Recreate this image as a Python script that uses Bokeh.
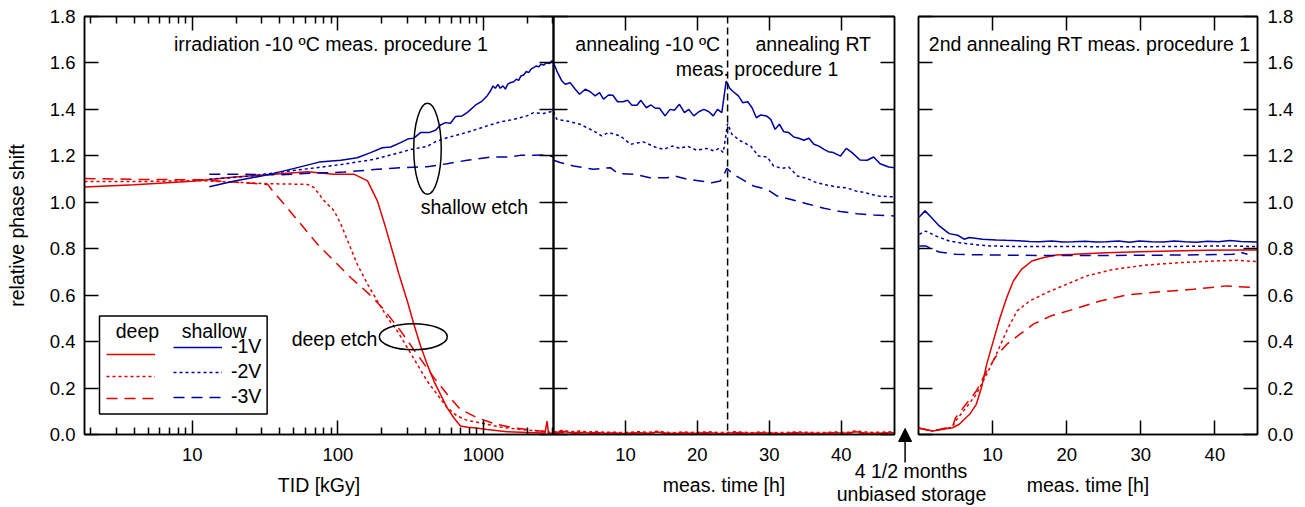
from bokeh.plotting import figure
from bokeh.models import (Range1d, LinearAxis, LogAxis, FixedTicker, PrintfTickFormatter,
                          Label, Span, Legend, LegendItem, BoxAnnotation, Arrow, NormalHead, GridBox)
from bokeh.core.properties import value
from bokeh.embed import file_html
from bokeh.resources import INLINE

# ---------------- data ----------------
y_ticks = [0.0, 0.2, 0.4, 0.6, 0.8, 1.0, 1.2, 1.4, 1.6, 1.8]
tid_ticks = [10, 100, 1000]
tid_minor_ticks = [2, 3, 4, 5, 6, 7, 8, 9, 20, 30, 40, 50, 60, 70, 80, 90,
                   200, 300, 400, 500, 600, 700, 800, 900, 2000, 3000]
time_ticks = [10, 20, 30, 40]
voltages = ["-1V", "-2V", "-3V"]

# irradiation (TID in kGy) - deep etch
tid_d1 = [1.82, 4, 10, 19.5, 36.6, 62, 94, 129, 160, 187, 213, 237, 263, 300, 333, 370, 411, 457, 507,
          564, 626, 695, 780, 858, 1060, 1453, 2213, 2650, 2735, 2800, 3030]
d1_irr = [1.066, 1.076, 1.091, 1.109, 1.121, 1.131, 1.121, 1.121, 1.092, 1.006, 0.891, 0.790, 0.690,
          0.575, 0.475, 0.381, 0.302, 0.230, 0.173, 0.115, 0.072, 0.037, 0.031, 0.029, 0.022, 0.012,
          0.008, 0.006, 0.058, 0.006, 0.005]
tid_d2 = [1.82, 5, 11.5, 33, 62, 68.8, 80.6, 94.4, 105, 119.5, 136, 160, 187, 219, 256, 300, 351, 411,
          481, 564, 660, 773, 1005, 1306, 1790, 2450, 3030]
d2_irr = [1.090, 1.090, 1.093, 1.080, 1.077, 1.063, 1.006, 0.963, 0.905, 0.819, 0.733, 0.647, 0.575,
          0.503, 0.446, 0.374, 0.302, 0.230, 0.173, 0.115, 0.080, 0.061, 0.047, 0.032, 0.022, 0.015, 0.008]
tid_d3 = [1.82, 5, 11.5, 33, 35.7, 42.9, 55.8, 72.6, 94.4, 122.7, 160, 207, 270, 351, 457, 564, 695,
          907, 1176, 1614, 2213, 3030]
d3_irr = [1.102, 1.098, 1.097, 1.077, 1.049, 0.991, 0.905, 0.819, 0.747, 0.675, 0.611, 0.539, 0.446,
          0.345, 0.245, 0.173, 0.108, 0.072, 0.047, 0.029, 0.018, 0.010]

# irradiation - shallow etch
tid_s1 = [13.1, 19.5, 33, 50.2, 74.5, 105, 136, 168, 202, 231, 270, 307, 333, 370, 422, 469, 507, 549,
          594, 643, 714, 773, 881, 979, 1060, 1117, 1165, 1207, 1260, 1306, 1364, 1415, 1467, 1530,
          1614, 1683, 1746, 1811, 1889, 1971, 2044, 2121, 2213, 2308, 2394, 2484, 2589, 2729, 2844,
          2951, 3030]
s1_irr = [1.067, 1.092, 1.118, 1.146, 1.173, 1.181, 1.192, 1.214, 1.235, 1.238, 1.257, 1.274, 1.276,
          1.300, 1.300, 1.310, 1.333, 1.343, 1.340, 1.369, 1.372, 1.386, 1.418, 1.436, 1.458, 1.479,
          1.501, 1.491, 1.508, 1.491, 1.501, 1.487, 1.508, 1.515, 1.519, 1.530, 1.525, 1.544, 1.548,
          1.563, 1.558, 1.573, 1.580, 1.587, 1.583, 1.594, 1.591, 1.601, 1.597, 1.609, 1.607]
tid_s2 = [13.1, 25.4, 42.9, 65.3, 110, 177, 243, 316, 411, 481, 564, 695, 858, 1060, 1306, 1614, 1991,
          2213, 2589, 3030]
s2_irr = [1.099, 1.113, 1.132, 1.146, 1.164, 1.185, 1.207, 1.227, 1.241, 1.264, 1.278, 1.293, 1.310,
          1.329, 1.346, 1.357, 1.372, 1.386, 1.382, 1.393]
tid_s3 = [13.1, 22.8, 38.6, 65.3, 110, 187, 270, 411, 564, 773, 1117, 1530, 1790, 2213, 2589, 3030]
s3_irr = [1.121, 1.121, 1.118, 1.125, 1.130, 1.142, 1.149, 1.153, 1.166, 1.181, 1.195, 1.195, 1.202,
          1.202, 1.204, 1.196]

# annealing -10 C / RT (meas. time in h)
h_s1 = [0, 0.47, 1.17, 1.63, 2.32, 3.02, 3.62, 4.41, 5.1, 5.8, 6.4, 6.95, 7.65, 8.26, 8.9, 9.65, 10.3,
        10.9, 11.6, 12.15, 12.9, 13.55, 14.15, 14.74, 15.5, 16.2, 16.8, 17.5, 18.2, 18.8, 19.5, 20.2,
        20.9, 21.6, 22.2, 22.8, 23.4, 24.0, 24.5, 25.0, 25.7, 26.3, 27.0, 27.6, 28.2, 28.8, 29.6, 30.2,
        30.8, 31.4, 32.0, 32.7, 33.4, 34.1, 34.8, 35.5, 36.2, 36.9, 37.6, 38.2, 38.9, 39.9, 40.7, 41.5,
        42.6, 43.6, 44.5, 45.4, 46.6, 47.4]
s1_ann = [1.601, 1.565, 1.522, 1.508, 1.515, 1.487, 1.465, 1.487, 1.476, 1.458, 1.472, 1.444, 1.462,
          1.461, 1.433, 1.433, 1.439, 1.418, 1.418, 1.439, 1.407, 1.419, 1.405, 1.405, 1.372, 1.400,
          1.396, 1.422, 1.386, 1.400, 1.372, 1.390, 1.400, 1.390, 1.372, 1.400, 1.386, 1.522, 1.491,
          1.476, 1.458, 1.429, 1.433, 1.407, 1.364, 1.376, 1.372, 1.357, 1.314, 1.336, 1.304, 1.300,
          1.281, 1.276, 1.267, 1.276, 1.250, 1.242, 1.228, 1.218, 1.214, 1.199, 1.232, 1.214, 1.182,
          1.181, 1.195, 1.166, 1.152, 1.149]
h_s2 = [0, 0.47, 1.86, 3.7, 5.56, 6.7, 7.65, 9.28, 10.7, 12.5, 14.1, 15.3, 16.5, 17.6, 18.6, 19.9, 21.3,
        22.3, 23.0, 23.6, 24.2, 24.8, 26.0, 27.4, 28.5, 29.7, 30.6, 31.8, 32.7, 33.9, 35.2, 36.6, 38.0,
        39.4, 40.6, 42.0, 43.4, 45.0, 47.4]
s2_ann = [1.390, 1.357, 1.350, 1.336, 1.307, 1.286, 1.300, 1.286, 1.250, 1.260, 1.238, 1.228, 1.242,
          1.232, 1.242, 1.224, 1.232, 1.221, 1.232, 1.214, 1.339, 1.293, 1.264, 1.242, 1.199, 1.195,
          1.156, 1.146, 1.152, 1.113, 1.103, 1.084, 1.074, 1.066, 1.063, 1.049, 1.041, 1.027, 1.023]
h_s3 = [0, 0.93, 2.78, 5.56, 7.9, 9.0, 11.1, 13.4, 15.8, 16.9, 18.6, 20.4, 22.0, 23.2, 23.6, 24.1, 25.0,
        26.4, 27.8, 29.7, 31.1, 32.9, 35.2, 37.6, 39.9, 42.2, 44.5, 47.4]
s3_ann = [1.181, 1.171, 1.156, 1.142, 1.149, 1.123, 1.121, 1.106, 1.106, 1.113, 1.099, 1.092, 1.084,
          1.092, 1.113, 1.146, 1.121, 1.095, 1.070, 1.056, 1.027, 1.013, 0.994, 0.974, 0.960, 0.951,
          0.945, 0.941]
h_d = [0, 1.2, 2.4, 3.6, 4.8, 6.0, 7.2, 8.4, 9.6, 10.8, 12.0, 13.2, 14.4, 15.6, 16.8, 18.0, 19.2, 20.4,
       21.6, 22.8, 24.0, 25.2, 26.4, 27.6, 28.8, 30.0, 31.2, 32.4, 33.6, 34.8, 36.0, 37.2, 38.4, 39.6,
       40.8, 42.0, 43.2, 44.4, 45.6, 47.4]
d1_ann = [0.006, 0.014, 0.008, 0.010, 0.006, 0.009, 0.005, 0.007, 0.004, 0.006, 0.008, 0.005, 0.011,
          0.006, 0.004, 0.007, 0.005, 0.006, 0.008, 0.005, 0.004, 0.009, 0.006, 0.005, 0.007, 0.006,
          0.004, 0.005, 0.008, 0.006, 0.005, 0.004, 0.006, 0.007, 0.005, 0.012, 0.007, 0.005, 0.006, 0.008]
d2_ann = [0.010, 0.018, 0.012, 0.015, 0.011, 0.013, 0.009, 0.010, 0.008, 0.010, 0.012, 0.009, 0.014,
          0.010, 0.008, 0.011, 0.009, 0.010, 0.012, 0.009, 0.008, 0.012, 0.010, 0.008, 0.011, 0.009,
          0.008, 0.009, 0.011, 0.010, 0.009, 0.008, 0.010, 0.011, 0.009, 0.016, 0.011, 0.009, 0.010, 0.012]
d3_ann = [0.004, 0.009, 0.005, 0.007, 0.004, 0.006, 0.003, 0.005, 0.003, 0.004, 0.005, 0.003, 0.007,
          0.004, 0.003, 0.005, 0.003, 0.004, 0.005, 0.003, 0.003, 0.006, 0.004, 0.003, 0.005, 0.004,
          0.003, 0.003, 0.005, 0.004, 0.003, 0.003, 0.004, 0.005, 0.003, 0.008, 0.005, 0.003, 0.004, 0.005]

# 2nd annealing RT (meas. time in h)
h2_s1 = [0.1, 0.88, 1.68, 2.8, 4.15, 5.28, 6.17, 6.85, 8.65, 10.5, 11.8, 13.5, 15.0, 16.3, 18.0, 19.5,
         20.8, 22.5, 24.0, 25.3, 27.0, 28.5, 29.8, 31.5, 33.0, 34.5, 36.0, 37.5, 39.0, 40.5, 42.0,
         43.5, 45.7]
s1_ann2 = [0.937, 0.963, 0.937, 0.898, 0.865, 0.858, 0.841, 0.848, 0.841, 0.838, 0.836, 0.834, 0.831,
           0.830, 0.833, 0.829, 0.830, 0.832, 0.829, 0.830, 0.833, 0.828, 0.833, 0.830, 0.829, 0.833,
           0.830, 0.828, 0.832, 0.830, 0.835, 0.831, 0.829]
h2_s2 = [0.1, 0.97, 2.35, 4.15, 6.4, 9.55, 14.0, 20.0, 26.0, 32.0, 38.0, 42.0, 45.7]
s2_ann2 = [0.862, 0.876, 0.855, 0.833, 0.822, 0.812, 0.809, 0.810, 0.808, 0.809, 0.811, 0.812, 0.809]
h2_s3 = [0.1, 0.97, 2.77, 5.0, 9.55, 16.0, 24.0, 32.0, 38.0, 42.5, 43.3, 44.4]
s3_ann2 = [0.812, 0.812, 0.786, 0.776, 0.773, 0.771, 0.771, 0.772, 0.774, 0.776, 0.786, 0.776]
h2_d1 = [0, 0.1, 1.9, 4.6, 5.5, 6.9, 7.8, 8.5, 9.2, 10.1, 11.0, 11.9, 12.8, 13.9, 15.3, 16.8, 18.6,
         20.9, 25.4, 29.8, 34.3, 38.8, 43.3, 45.75]
d1_ann2 = [0.028, 0.027, 0.015, 0.029, 0.044, 0.087, 0.130, 0.202, 0.302, 0.403, 0.503, 0.589, 0.661,
           0.711, 0.747, 0.761, 0.773, 0.776, 0.783, 0.787, 0.790, 0.793, 0.795, 0.795]
h2_d2 = [0, 1.9, 4.6, 5.0, 6.4, 7.8, 9.2, 10.5, 11.9, 13.3, 15.0, 17.3, 20.0, 22.7, 26.3, 30.8, 35.3,
         39.8, 43.3, 45.75]
d2_ann2 = [0.028, 0.015, 0.032, 0.058, 0.115, 0.173, 0.259, 0.345, 0.446, 0.532, 0.575, 0.611, 0.647,
           0.683, 0.711, 0.730, 0.740, 0.747, 0.750, 0.744]
h2_d3 = [0, 1.9, 4.6, 5.0, 6.4, 7.8, 9.2, 10.5, 11.9, 13.7, 15.5, 17.8, 20.9, 24.5, 28.1, 32.6, 37.1,
         41.6, 45.5]
d3_ann2 = [0.028, 0.015, 0.035, 0.072, 0.130, 0.187, 0.273, 0.338, 0.388, 0.432, 0.475, 0.510, 0.539,
           0.575, 0.601, 0.615, 0.625, 0.640, 0.632]

# ---------------- style ----------------
FONT = "Liberation Sans"
RED = "#e00000"
BLUE = "#0000a0"
DASHES = {"-1V": "solid", "-2V": "3 3", "-3V": "11 7"}
TICK_FS = "18.5px"
TEXT_FS = "19.5px"
W, H = 1305, 507
TOP, BOTTOM = 16, 73


def style_axis(ax, labels=False, title=None):
    ax.axis_line_width = 1.5
    ax.axis_line_color = "black"
    ax.major_tick_line_width = 1.5
    ax.minor_tick_line_width = 1.5
    ax.major_tick_in = 14
    ax.major_tick_out = 0
    ax.minor_tick_in = 7
    ax.minor_tick_out = 0
    ax.major_label_text_font = FONT
    if labels:
        ax.major_label_text_color = "black"
        ax.major_label_text_font_size = TICK_FS
        ax.major_label_standoff = 13
    else:
        ax.major_label_text_color = None
        ax.major_label_text_font_size = "0px"
        ax.major_label_standoff = 0
    if title:
        ax.axis_label = title
        ax.axis_label_text_font = FONT
        ax.axis_label_text_font_size = TEXT_FS
        ax.axis_label_text_font_style = "normal"
        ax.axis_label_text_color = "black"
        ax.axis_label_standoff = 10
    return ax


def make_fig(x_range, left, frame_w, log=False, y_range=None, top=TOP, bottom=BOTTOM):
    p = figure(width=W, height=H, x_range=x_range,
               y_range=y_range if y_range is not None else Range1d(0, 1.8),
               x_axis_type="log" if log else "linear",
               x_axis_location=None, y_axis_location=None,
               toolbar_location=None, output_backend="svg")
    p.frame_align = False
    p.min_border_left = left
    p.min_border_right = W - left - frame_w
    p.min_border_top = top
    p.min_border_bottom = bottom
    p.background_fill_color = None
    p.border_fill_color = None
    p.outline_line_color = "black"
    p.outline_line_width = 1.5
    p.xgrid.visible = False
    p.ygrid.visible = False
    return p


def add_y_axes(p, left_labels=False, right_labels=False, title=None):
    yt = FixedTicker(ticks=y_ticks, minor_ticks=[])
    fmt = PrintfTickFormatter(format="%.1f")
    la = style_axis(LinearAxis(ticker=yt, formatter=fmt), left_labels, title)
    ra = style_axis(LinearAxis(ticker=yt, formatter=fmt), right_labels)
    p.add_layout(la, "left")
    p.add_layout(ra, "right")
    return la, ra


def add_x_axes(p, log=False, title=None):
    if log:
        xt = FixedTicker(ticks=tid_ticks, minor_ticks=tid_minor_ticks)
        below = LogAxis(ticker=xt, formatter=PrintfTickFormatter(format="%d"))
        above = LogAxis(ticker=xt, formatter=PrintfTickFormatter(format="%d"))
    else:
        xt = FixedTicker(ticks=time_ticks, minor_ticks=[])
        below = LinearAxis(ticker=xt, formatter=PrintfTickFormatter(format="%d"))
        above = LinearAxis(ticker=xt, formatter=PrintfTickFormatter(format="%d"))
    style_axis(below, True, title)
    style_axis(above, False)
    p.add_layout(below, "below")
    p.add_layout(above, "above")
    return below


def series(p, xs, ys, color, volt):
    return p.line(x=xs, y=ys, line_color=color, line_width=1.5, line_dash=DASHES[volt])


def text(p, x, y, s, align="center"):
    p.add_layout(Label(x=x, y=y, text=s, text_align=align, text_baseline="middle",
                       text_font=FONT, text_font_size=TEXT_FS, text_color="black"))


# ---------------- panel 1: irradiation ----------------
p1 = make_fig(Range1d(1.82, 3030), 84, 469, log=True)
add_x_axes(p1, log=True, title="TID [kGy]")
la, _ = add_y_axes(p1, left_labels=True, title="relative phase shift")
la.major_label_standoff = 9
la.axis_label_standoff = 19

deep_r = [series(p1, tid_d1, d1_irr, RED, "-1V"),
          series(p1, tid_d2, d2_irr, RED, "-2V"),
          series(p1, tid_d3, d3_irr, RED, "-3V")]
shallow_r = [series(p1, tid_s1, s1_irr, BLUE, "-1V"),
             series(p1, tid_s2, s2_irr, BLUE, "-2V"),
             series(p1, tid_s3, s3_irr, BLUE, "-3V")]

text(p1, 89.6, 1.68, "irradiation -10 ºC meas. procedure 1")
text(p1, 867, 0.981, "shallow etch")
text(p1, 94.9, 0.413, "deep etch")
p1.ellipse(x=[413], y=[1.23], width=27.5, height=91, width_units="screen", height_units="screen",
           fill_color=None, line_color="black", line_width=1.5)
p1.ellipse(x=[330], y=[0.421], width=68, height=26, width_units="screen", height_units="screen",
           fill_color=None, line_color="black", line_width=1.5)

# legend
p1.add_layout(BoxAnnotation(left=2.307, right=32.7, bottom=0.088, top=0.510,
                            fill_color=None, fill_alpha=0, line_color="black", line_alpha=1,
                            line_width=1.5))
text(p1, 4.2, 0.444, "deep")
text(p1, 14.15, 0.444, "shallow")


def legend(items, loc, with_labels):
    lg = Legend(items=items, location=loc, border_line_color=None, background_fill_color=None,
                padding=0, margin=0, spacing=2, glyph_width=49, glyph_height=20, label_height=20,
                label_text_font=FONT, label_text_font_size=TEXT_FS, label_text_color="black")
    if with_labels:
        lg.label_standoff = 9
    else:
        lg.label_standoff = 0
        lg.label_width = 0
    return lg


p1.add_layout(legend([LegendItem(label=value(""), renderers=[r]) for r in deep_r], (22, 26), False), "center")
p1.add_layout(legend([LegendItem(label=v, renderers=[r]) for v, r in zip(voltages, shallow_r)],
                     (89, 26), True), "center")

# ---------------- panel 2: annealing ----------------
p2 = make_fig(Range1d(0, 47.4), 553, 341)
add_x_axes(p2, title="meas. time [h]")
add_y_axes(p2)
series(p2, h_d, d1_ann, RED, "-1V")
series(p2, h_d, d2_ann, RED, "-2V")
series(p2, h_d, d3_ann, RED, "-3V")
series(p2, h_s1, s1_ann, BLUE, "-1V")
series(p2, h_s2, s2_ann, BLUE, "-2V")
series(p2, h_s3, s3_ann, BLUE, "-3V")
p2.add_layout(Span(location=24.2, dimension="height", line_color="black", line_width=1.5,
                   line_dash="7 4"))
text(p2, 13.1, 1.68, "annealing -10 ºC")
text(p2, 36.1, 1.68, "annealing RT")
text(p2, 28.3, 1.573, "meas. procedure 1")

# ---------------- panel 3: 2nd annealing ----------------
p3 = make_fig(Range1d(0, 45.75), 918, 339)
add_x_axes(p3, title="meas. time [h]")
_, ra = add_y_axes(p3, right_labels=True)
ra.major_label_standoff = 10
series(p3, h2_d1, d1_ann2, RED, "-1V")
series(p3, h2_d2, d2_ann2, RED, "-2V")
series(p3, h2_d3, d3_ann2, RED, "-3V")
series(p3, h2_s1, s1_ann2, BLUE, "-1V")
series(p3, h2_s2, s2_ann2, BLUE, "-2V")
series(p3, h2_s3, s3_ann2, BLUE, "-3V")
text(p3, 23.1, 1.68, "2nd annealing RT meas. procedure 1")

# ---------------- overlay: storage note between panels 2 and 3 (pixel coordinates) ----------------
p4 = make_fig(Range1d(0, W), 0, W, y_range=Range1d(H, 0), top=0, bottom=0)
p4.outline_line_color = None
p4.add_layout(Arrow(end=NormalHead(size=13, fill_color="black", line_color="black", line_width=1),
                    x_start=904.6, y_start=462, x_end=904.6, y_end=428,
                    line_color="black", line_width=1.5))
text(p4, 910.5, 470, "4 1/2 months")
text(p4, 911, 493, "unbiased storage")

layout = GridBox(children=[(p1, 0, 0), (p2, 0, 0), (p3, 0, 0), (p4, 0, 0)])

open("out.html", "w").write(file_html(layout, INLINE))
